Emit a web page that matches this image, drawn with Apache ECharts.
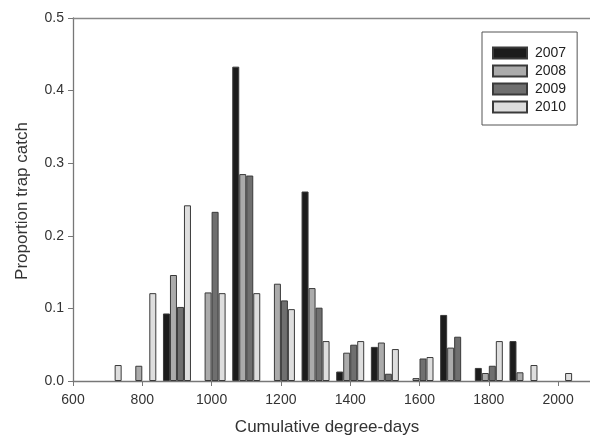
<!DOCTYPE html>
<html>
<head>
<meta charset="utf-8">
<script src="https://cdn.jsdelivr.net/npm/echarts@6/dist/echarts.min.js"></script>
<style>
html,body{margin:0;padding:0;background:#fff;}
#chart{width:590px;height:435px;}
</style>
</head>
<body>
<div id="chart"></div>
<script>
var degreeDays = [700, 800, 900, 1000, 1100, 1200, 1300, 1400, 1500, 1600, 1700, 1800, 1900, 2000];
var y2007 = [null, null, 0.093, null, 0.433, null, 0.261, 0.013, 0.047, null, 0.091, 0.018, 0.055, null];
var y2008 = [null, 0.021, 0.146, 0.122, 0.285, 0.134, 0.128, 0.039, 0.053, 0.004, 0.046, 0.011, 0.012, null];
var y2009 = [null, null, 0.102, 0.233, 0.283, 0.111, 0.101, 0.050, 0.010, 0.031, 0.061, 0.021, null, null];
var y2010 = [0.022, 0.121, 0.242, 0.121, 0.121, 0.099, 0.055, 0.055, 0.044, 0.033, null, 0.055, 0.022, 0.011];
var seriesNames = ['2007', '2008', '2009', '2010'];
var xTicks = [600, 800, 1000, 1200, 1400, 1600, 1800, 2000];
var yTicks = [0.0, 0.1, 0.2, 0.3, 0.4, 0.5];
var xTitle = 'Cumulative degree-days';
var yTitle = 'Proportion trap catch';

var colors = ['#1c1c1c', '#ababab', '#6f6f6f', '#dedede'];
var font = '"Liberation Sans", Arial, sans-serif';
var axisColor = '#777';

function pairs(vals) {
  return degreeDays.map(function (d, i) {
    return [d, vals[i] == null ? '-' : vals[i]];
  });
}
var allVals = [y2007, y2008, y2009, y2010];

var chart = echarts.init(document.getElementById('chart'), null, {renderer: 'canvas'});
chart.setOption({
  animation: false,
  backgroundColor: '#fff',
  textStyle: {fontFamily: font},
  grid: {left: 73, right: 0, top: 18, bottom: 54, containLabel: false},
  legend: {
    orient: 'vertical',
    left: 482, top: 32,
    padding: [14, 11, 11, 10],
    borderColor: '#555', borderWidth: 1,
    itemWidth: 34, itemHeight: 11, itemGap: 4,
    icon: 'rect',
    textStyle: {fontSize: 14, color: '#222', fontFamily: font, padding: [0, 0, 0, 3]},
    data: seriesNames
  },
  xAxis: [{
    type: 'value',
    min: xTicks[0], max: 2092, interval: 200,
    axisLine: {show: true, lineStyle: {color: axisColor, width: 1.3}},
    axisTick: {show: true, inside: false, length: 5, lineStyle: {color: axisColor}},
    axisLabel: {
      fontSize: 14, color: '#333', margin: 12, fontFamily: font,
      showMaxLabel: false,
      formatter: function (v) { return xTicks.indexOf(v) >= 0 ? String(v) : ''; }
    },
    splitLine: {show: false}
  }, {
    type: 'value', position: 'top',
    min: xTicks[0], max: 2092, interval: 200,
    axisLine: {show: true, onZero: false, lineStyle: {color: '#888', width: 1.3}},
    axisTick: {show: false}, axisLabel: {show: false}, splitLine: {show: false}
  }],
  yAxis: {
    type: 'value', min: 0, max: 0.5, interval: 0.1,
    axisLine: {show: true, lineStyle: {color: axisColor, width: 1.3}},
    axisTick: {show: true, inside: false, length: 5, lineStyle: {color: axisColor}},
    axisLabel: {fontSize: 14, color: '#333', margin: 9, fontFamily: font,
      formatter: function (v) { return v.toFixed(1); }},
    splitLine: {show: false}
  },
  graphic: [{
    type: 'text',
    x: 327, y: 427,
    style: {text: xTitle, fontSize: 17, fill: '#333', fontFamily: font,
      textAlign: 'center', textVerticalAlign: 'middle'}
  }, {
    type: 'text',
    x: 22, y: 201, rotation: Math.PI / 2,
    style: {text: yTitle, fontSize: 17, fill: '#333', fontFamily: font,
      textAlign: 'center', textVerticalAlign: 'middle'}
  }],
  series: seriesNames.map(function (n, i) {
    return {
      name: n, type: 'bar', xAxisIndex: 0,
      data: pairs(allVals[i]),
      barWidth: 7, barGap: '0%',
      itemStyle: {color: colors[i], borderColor: '#3a3a3a', borderWidth: 1}
    };
  })
});
</script>
</body>
</html>
